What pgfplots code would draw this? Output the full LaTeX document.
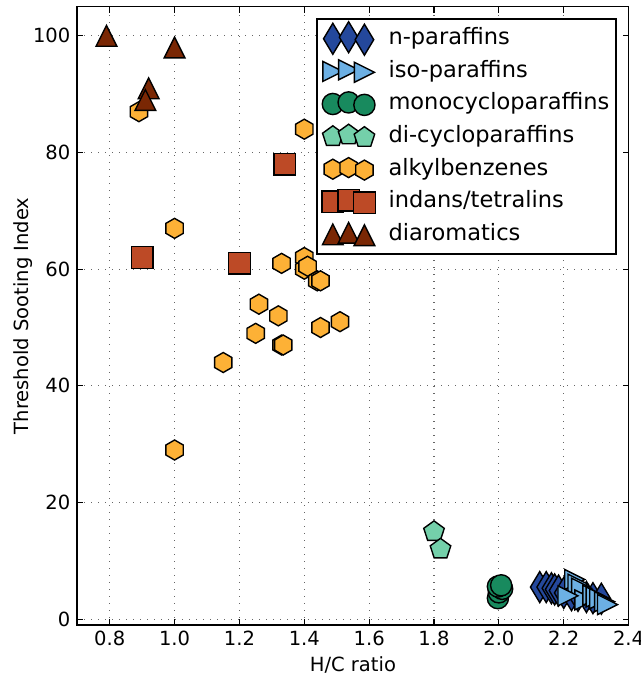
\documentclass[border=0pt]{standalone}
\usepackage{fontspec}
\setmainfont{DejaVu Sans}
\usepackage{pgfplots}
\pgfplotsset{compat=1.18}

\definecolor{cnpar}{HTML}{24489C}
\definecolor{ciso}{HTML}{6CB0E4}
\definecolor{cmono}{HTML}{188A5E}
\definecolor{cdi}{HTML}{74D0AA}
\definecolor{calk}{HTML}{FDB136}
\definecolor{cind}{HTML}{BD4A26}
\definecolor{cdiar}{HTML}{7A2704}

\pgfdeclareplotmark{thindiamond}{%
  \pgfpathmoveto{\pgfqpoint{0pt}{1.55\pgfplotmarksize}}%
  \pgfpathlineto{\pgfqpoint{0.93\pgfplotmarksize}{0pt}}%
  \pgfpathlineto{\pgfqpoint{0pt}{-1.55\pgfplotmarksize}}%
  \pgfpathlineto{\pgfqpoint{-0.93\pgfplotmarksize}{0pt}}%
  \pgfpathclose\pgfusepathqfillstroke}
\pgfdeclareplotmark{tright}{%
  \pgfpathmoveto{\pgfqpoint{\pgfplotmarksize}{0pt}}%
  \pgfpathlineto{\pgfqpoint{-\pgfplotmarksize}{\pgfplotmarksize}}%
  \pgfpathlineto{\pgfqpoint{-\pgfplotmarksize}{-\pgfplotmarksize}}%
  \pgfpathclose\pgfusepathqfillstroke}
\pgfdeclareplotmark{tup}{%
  \pgfpathmoveto{\pgfqpoint{0pt}{\pgfplotmarksize}}%
  \pgfpathlineto{\pgfqpoint{-\pgfplotmarksize}{-\pgfplotmarksize}}%
  \pgfpathlineto{\pgfqpoint{\pgfplotmarksize}{-\pgfplotmarksize}}%
  \pgfpathclose\pgfusepathqfillstroke}
\pgfdeclareplotmark{hexa}{%
  \pgfpathmoveto{\pgfqpointpolar{90}{\pgfplotmarksize}}%
  \pgfpathlineto{\pgfqpointpolar{150}{\pgfplotmarksize}}%
  \pgfpathlineto{\pgfqpointpolar{210}{\pgfplotmarksize}}%
  \pgfpathlineto{\pgfqpointpolar{270}{\pgfplotmarksize}}%
  \pgfpathlineto{\pgfqpointpolar{330}{\pgfplotmarksize}}%
  \pgfpathlineto{\pgfqpointpolar{30}{\pgfplotmarksize}}%
  \pgfpathclose\pgfusepathqfillstroke}
\pgfdeclareplotmark{penta}{%
  \pgfpathmoveto{\pgfqpointpolar{90}{\pgfplotmarksize}}%
  \pgfpathlineto{\pgfqpointpolar{162}{\pgfplotmarksize}}%
  \pgfpathlineto{\pgfqpointpolar{234}{\pgfplotmarksize}}%
  \pgfpathlineto{\pgfqpointpolar{306}{\pgfplotmarksize}}%
  \pgfpathlineto{\pgfqpointpolar{18}{\pgfplotmarksize}}%
  \pgfpathclose\pgfusepathqfillstroke}

\pgfplotsset{
  sc/.style={only marks,
    mark options={draw=black, fill=#1, line width=0.7bp, solid},
    legend image code/.code={%
      \path[draw=none,fill=none] (-4.55bp,-4bp) rectangle (22bp,4bp);%
      \path[##1,draw=none,overlay] plot[only marks] coordinates {(0bp,0bp) (7.9bp,0.8bp) (15.8bp,-0.45bp)};%
    }},
}

\begin{document}
\begin{tikzpicture}
\begin{axis}[
  name=ax,
  scale only axis, width=275.65bp, height=309.15bp,
  xmin=0.7, xmax=2.4, ymin=-1, ymax=105,
  xtick={0.8,1.0,1.2,1.4,1.6,1.8,2.0,2.2,2.4},
  xticklabels={0.8,1.0,1.2,1.4,1.6,1.8,2.0,2.2,2.4},
  ytick={0,20,40,60,80,100},
  yticklabels={0,20,40,60,80,100},
  tick align=inside, major tick length=3bp,
  tick style={black, line width=0.6bp},
  grid=major,
  major grid style={black!60, line width=0.6bp, dash pattern=on 0.6bp off 2.9bp},
  axis line style={line width=0.8bp},
  axis on top,
  tick label style={font=\fontsize{9.8}{11}\selectfont},
  xticklabel style={anchor=base, inner sep=0pt, yshift=-10.35bp},
  yticklabel style={anchor=east, inner sep=0pt, xshift=-3.3bp},
  label style={font=\fontsize{9.8}{11}\selectfont},
  xlabel={H/C ratio}, ylabel={Threshold Sooting Index},
  xlabel style={at={(axis description cs:0.5,0)}, anchor=base, yshift=-23bp, inner sep=0pt},
  ylabel style={at={(axis description cs:-0.0888,0.5)}, anchor=base, inner sep=0pt},
  legend cell align=left,
  legend style={at={(1,1)}, anchor=north east, xshift=-5.95bp, yshift=-5.9bp,
    font=\fontsize{11.3}{13}\selectfont, draw=black, line width=0.8bp,
    inner xsep=3.3bp, inner ysep=4.25bp, row sep=5.3bp, column sep=5.85bp,
    nodes={inner sep=0pt, text height=8.5bp, text depth=2.5bp}},
]
\addplot[sc=cnpar, mark=thindiamond, mark size=5bp] coordinates {
(2.126,5.5) (2.146,5.5) (2.162,5.3) (2.172,5.1) (2.184,4.9) (2.20,4.5)
(2.224,4.1) (2.244,4.0) (2.27,3.8) (2.29,3.6) (2.316,3.5)};
\addlegendentry{n-paraffins}
\addplot[sc=ciso, mark=tright, mark size=5bp] coordinates {
(2.234,6.8) (2.244,6.0) (2.255,5.3) (2.265,3.3) (2.29,4.1) (2.30,3.8)
(2.311,3.5) (2.326,3.0) (2.335,2.5) (2.213,4.0)};
\addlegendentry{iso-paraffins}
\addplot[sc=cmono, mark=*, mark size=5.3bp] coordinates {
(1.997,3.6) (2.0,4.6) (2.01,5.2) (1.997,5.6) (2.007,5.8)};
\addlegendentry{monocycloparaffins}
\addplot[sc=cdi, mark=penta, mark size=5.4bp] coordinates {
(1.80,15) (1.82,12)};
\addlegendentry{di-cycloparaffins}
\addplot[sc=calk, mark=hexa, mark size=5bp] coordinates {
(0.89,87) (1.0,67) (1.40,84) (1.0,29) (1.33,61) (1.40,62) (1.40,60)
(1.41,60.5) (1.44,58) (1.45,58) (1.26,54) (1.32,52) (1.25,49) (1.33,47)
(1.335,47) (1.45,50) (1.51,51) (1.15,44)};
\addlegendentry{alkylbenzenes}
\addplot[sc=cind, mark=square*, mark size=5.4bp] coordinates {
(0.9,62) (1.2,61) (1.34,78)};
\addlegendentry{indans/tetralins}
\addplot[sc=cdiar, mark=tup, mark size=5.2bp] coordinates {
(0.79,100) (1.0,98) (0.92,91) (0.91,89)};
\addlegendentry{diaromatics}
\end{axis}
\pgfresetboundingbox
\path[use as bounding box] ([xshift=-38.65bp,yshift=-25bp]ax.south west) rectangle ([xshift=6.2bp,yshift=3.35bp]ax.north east);
\end{tikzpicture}
\end{document}
